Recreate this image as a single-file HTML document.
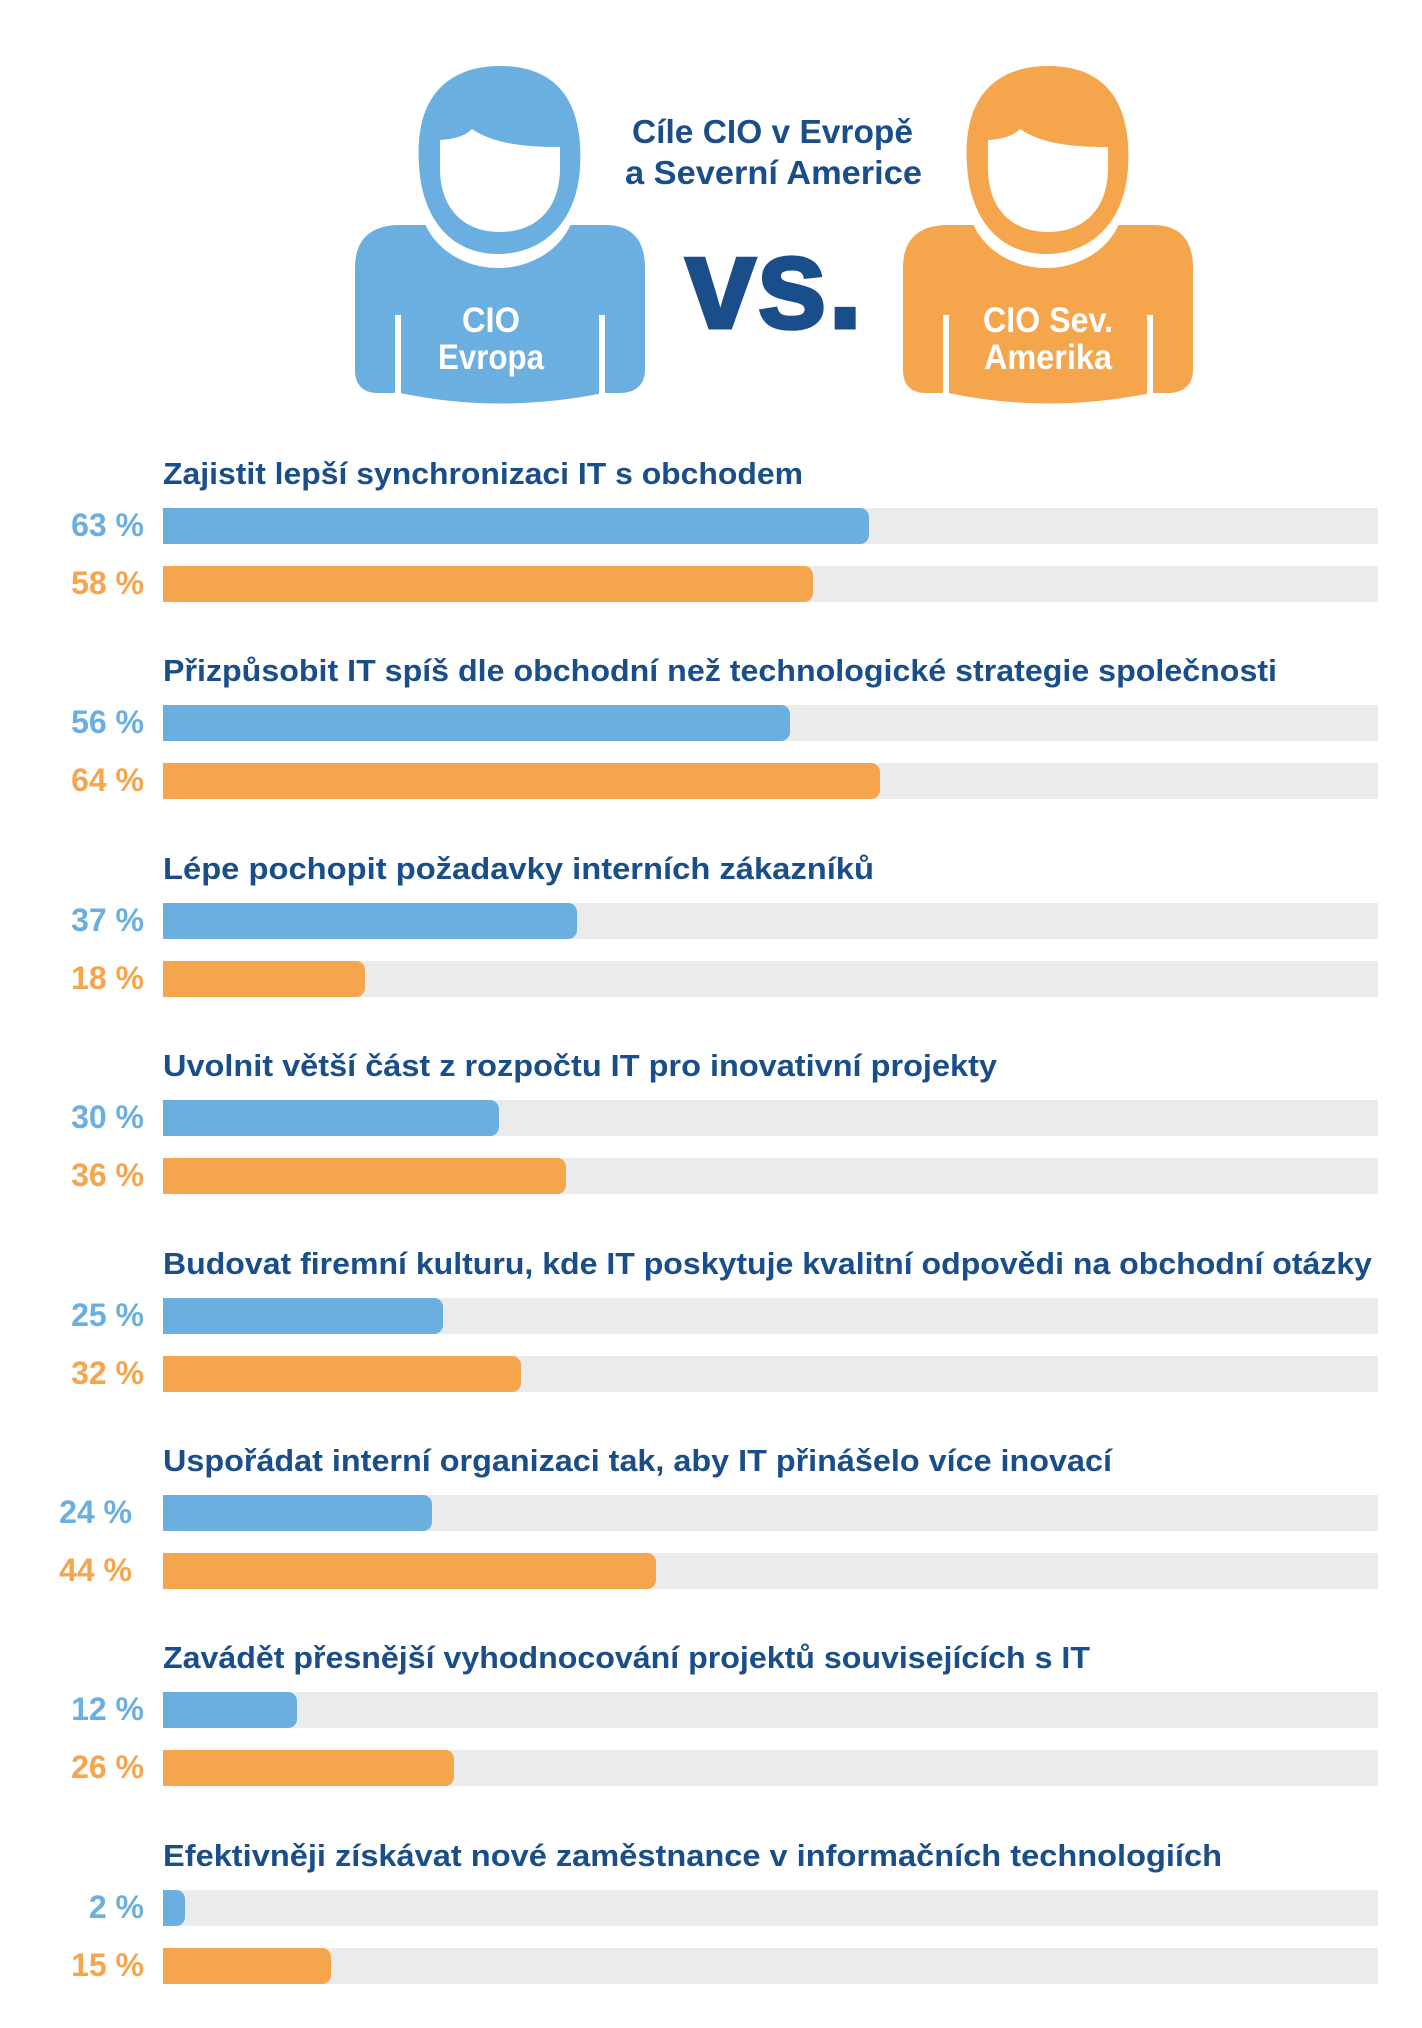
<!DOCTYPE html>
<html><head><meta charset="utf-8"><style>html,body{margin:0;padding:0;background:#fff}svg{display:block}</style></head>
<body>
<svg width="1422" height="2028" viewBox="0 0 1422 2028" xmlns="http://www.w3.org/2000/svg" font-family="Liberation Sans, sans-serif" font-weight="bold">
<rect width="1422" height="2028" fill="#fff"/>
<defs>
<g id="person">
<path d="M355,268 C355,240 370,225 400,225 L605,225 C632,225 645,240 645,268 L645,370 C645,385 635,393 620,393 L603,393 Q500,414 400,393 L378,393 C363,393 355,385 355,370 Z"/>
<ellipse cx="498" cy="200" rx="78" ry="68" fill="#fff"/>
<rect x="395" y="315" width="6" height="90" fill="#fff"/>
<rect x="599" y="315" width="6" height="90" fill="#fff"/>
<path d="M419,165 C414,95 450,66 500,66 C556,66 584,100 580,168 C577,220 545,254 498,254 C452,254 422,220 419,165 Z"/>
<path d="M440,140 C455,139 465,136 472,129 C495,145 530,147 560,147 L560,168 C560,210 535,232 500,232 C465,232 440,210 440,168 Z" fill="#fff"/>
</g>
</defs>
<use href="#person" fill="#6aafe0"/>
<use href="#person" fill="#f5a54c" transform="translate(548,0)"/>
<g fill="#fff" font-size="35" text-anchor="middle">
<text x="491" y="332" textLength="58" lengthAdjust="spacingAndGlyphs">CIO</text>
<text x="491" y="369" textLength="106" lengthAdjust="spacingAndGlyphs">Evropa</text>
<text x="1048" y="332" textLength="130" lengthAdjust="spacingAndGlyphs">CIO Sev.</text>
<text x="1048" y="369" textLength="128" lengthAdjust="spacingAndGlyphs">Amerika</text>
</g>
<g fill="#1a4e8a">
<text x="632" y="143" font-size="33" textLength="281" lengthAdjust="spacingAndGlyphs">Cíle CIO v Evropě</text>
<text x="625" y="184" font-size="33" textLength="297" lengthAdjust="spacingAndGlyphs">a Severní Americe</text>
<text x="685" y="328" font-size="132" textLength="178" lengthAdjust="spacingAndGlyphs" stroke="#1a4e8a" stroke-width="3">vs.</text>
</g>
<g font-size="31" fill="#1a4e8a">
<text x="163" y="484" textLength="640" lengthAdjust="spacingAndGlyphs">Zajistit lepší synchronizaci IT s obchodem</text>
<text x="163" y="681" textLength="1114" lengthAdjust="spacingAndGlyphs">Přizpůsobit IT spíš dle obchodní než technologické strategie společnosti</text>
<text x="163" y="879" textLength="711" lengthAdjust="spacingAndGlyphs">Lépe pochopit požadavky interních zákazníků</text>
<text x="163" y="1076" textLength="834" lengthAdjust="spacingAndGlyphs">Uvolnit větší část z rozpočtu IT pro inovativní projekty</text>
<text x="163" y="1274" textLength="1209" lengthAdjust="spacingAndGlyphs">Budovat firemní kulturu, kde IT poskytuje kvalitní odpovědi na obchodní otázky</text>
<text x="163" y="1471" textLength="949" lengthAdjust="spacingAndGlyphs">Uspořádat interní organizaci tak, aby IT přinášelo více inovací</text>
<text x="163" y="1668" textLength="927" lengthAdjust="spacingAndGlyphs">Zavádět přesnější vyhodnocování projektů souvisejících s IT</text>
<text x="163" y="1866" textLength="1059" lengthAdjust="spacingAndGlyphs">Efektivněji získávat nové zaměstnance v informačních technologiích</text>
</g>
<g fill="#ebebeb">
<rect x="163" y="508" width="1215" height="36"/><rect x="163" y="566" width="1215" height="36"/>
<rect x="163" y="705" width="1215" height="36"/><rect x="163" y="763" width="1215" height="36"/>
<rect x="163" y="903" width="1215" height="36"/><rect x="163" y="961" width="1215" height="36"/>
<rect x="163" y="1100" width="1215" height="36"/><rect x="163" y="1158" width="1215" height="36"/>
<rect x="163" y="1298" width="1215" height="36"/><rect x="163" y="1356" width="1215" height="36"/>
<rect x="163" y="1495" width="1215" height="36"/><rect x="163" y="1553" width="1215" height="36"/>
<rect x="163" y="1692" width="1215" height="36"/><rect x="163" y="1750" width="1215" height="36"/>
<rect x="163" y="1890" width="1215" height="36"/><rect x="163" y="1948" width="1215" height="36"/>
</g>
<g fill="#6aafe0">
<rect x="163" y="508" width="706" height="36" rx="9"/><rect x="163" y="508" width="20" height="36"/>
<rect x="163" y="705" width="627" height="36" rx="9"/><rect x="163" y="705" width="20" height="36"/>
<rect x="163" y="903" width="414" height="36" rx="9"/><rect x="163" y="903" width="20" height="36"/>
<rect x="163" y="1100" width="336" height="36" rx="9"/><rect x="163" y="1100" width="20" height="36"/>
<rect x="163" y="1298" width="280" height="36" rx="9"/><rect x="163" y="1298" width="20" height="36"/>
<rect x="163" y="1495" width="269" height="36" rx="9"/><rect x="163" y="1495" width="20" height="36"/>
<rect x="163" y="1692" width="134" height="36" rx="9"/><rect x="163" y="1692" width="20" height="36"/>
<rect x="163" y="1890" width="22" height="36" rx="9"/><rect x="163" y="1890" width="12" height="36"/>
</g>
<g fill="#f5a54c">
<rect x="163" y="566" width="650" height="36" rx="9"/><rect x="163" y="566" width="20" height="36"/>
<rect x="163" y="763" width="717" height="36" rx="9"/><rect x="163" y="763" width="20" height="36"/>
<rect x="163" y="961" width="202" height="36" rx="9"/><rect x="163" y="961" width="20" height="36"/>
<rect x="163" y="1158" width="403" height="36" rx="9"/><rect x="163" y="1158" width="20" height="36"/>
<rect x="163" y="1356" width="358" height="36" rx="9"/><rect x="163" y="1356" width="20" height="36"/>
<rect x="163" y="1553" width="493" height="36" rx="9"/><rect x="163" y="1553" width="20" height="36"/>
<rect x="163" y="1750" width="291" height="36" rx="9"/><rect x="163" y="1750" width="20" height="36"/>
<rect x="163" y="1948" width="168" height="36" rx="9"/><rect x="163" y="1948" width="20" height="36"/>
</g>
<g font-size="32" text-anchor="end">
<g fill="#6aafe0">
<text x="144" y="536">63 %</text><text x="144" y="733">56 %</text><text x="144" y="931">37 %</text><text x="144" y="1128">30 %</text>
<text x="144" y="1326">25 %</text><text x="132" y="1523">24 %</text><text x="144" y="1720">12 %</text><text x="144" y="1918">2 %</text>
</g>
<g fill="#f5a54c">
<text x="144" y="594">58 %</text><text x="144" y="791">64 %</text><text x="144" y="989">18 %</text><text x="144" y="1186">36 %</text>
<text x="144" y="1384">32 %</text><text x="132" y="1581">44 %</text><text x="144" y="1778">26 %</text><text x="144" y="1976">15 %</text>
</g>
</g>
</svg>
</body></html>
